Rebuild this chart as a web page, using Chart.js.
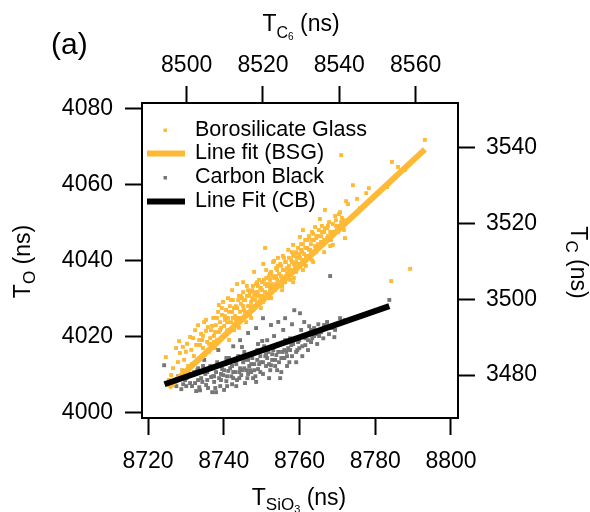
<!DOCTYPE html>
<html>
<head>
    <meta charset="utf-8">
    <title>T_SiO3 / T_C6</title>
    <script src="https://cdn.jsdelivr.net/npm/chart.js"></script>
    <style>
        body { margin: 0; background: #fff; }
    </style>
</head>
<body>
    <canvas id="fitChart" width="590" height="512"></canvas>

    <script>
        // Borosilicate Glass : T_SiO3 (bottom axis) vs T_O (left axis)
        const bsgX = [
            8724.7, 8725.5, 8726.6, 8727.4, 8727.9, 8726.1, 8727.1,
            8728.4, 8729.2, 8728.2, 8729.5, 8730.0, 8730.6, 8729.0, 8730.3,
            8731.1, 8731.9, 8731.4, 8732.1, 8732.7, 8733.2, 8733.5, 8732.9, 8731.6, 8732.4,
            8734.0, 8734.5, 8734.8, 8735.3, 8735.6, 8736.1, 8734.3, 8735.0, 8735.8, 8736.4,
            8736.6, 8736.9, 8737.2, 8737.4, 8737.9, 8738.2, 8738.5, 8738.7, 8737.7, 8739.0, 8738.7,
            8739.3, 8739.5, 8739.8, 8740.1, 8740.3, 8740.6, 8740.9, 8741.1, 8741.4, 8741.6, 8740.1, 8741.1,
            8741.9, 8742.2, 8742.4, 8742.7, 8743.0, 8743.2, 8743.5, 8743.8, 8744.0, 8744.3, 8742.2, 8743.2, 8742.7, 8744.0,
            8744.5, 8744.8, 8745.1, 8745.3, 8745.6, 8745.9, 8746.1, 8746.4, 8746.7, 8746.9, 8744.8, 8745.6, 8746.4, 8745.1,
            8747.2, 8747.5, 8747.7, 8748.0, 8748.3, 8748.5, 8748.8, 8749.0, 8749.3, 8749.6, 8747.5, 8748.3, 8749.0, 8748.0, 8747.2,
            8749.8, 8750.1, 8750.4, 8750.6, 8750.9, 8751.2, 8751.4, 8751.7, 8751.9, 8752.2, 8750.1, 8750.9, 8751.7, 8750.6, 8752.2,
            8752.5, 8752.7, 8753.0, 8753.3, 8753.5, 8753.8, 8754.1, 8754.3, 8754.6, 8754.9, 8753.3, 8752.7, 8753.8, 8754.3,
            8755.1, 8755.4, 8755.6, 8755.9, 8756.2, 8756.4, 8756.7, 8757.0, 8757.2, 8757.5, 8755.9, 8755.4, 8757.0, 8756.4,
            8757.8, 8758.0, 8758.3, 8758.5, 8758.8, 8759.1, 8759.3, 8759.6, 8759.9, 8760.1, 8758.0, 8759.1, 8760.1, 8758.5,
            8760.4, 8760.7, 8760.9, 8761.2, 8761.5, 8761.7, 8762.0, 8762.2, 8762.5, 8762.8, 8760.9, 8761.7,
            8763.0, 8763.3, 8763.6, 8763.8, 8764.1, 8764.4, 8764.6, 8764.9, 8765.1, 8765.4, 8763.3, 8764.4,
            8765.7, 8765.9, 8766.2, 8766.5, 8766.7, 8767.0, 8767.3, 8767.5, 8767.8, 8768.1, 8766.5,
            8768.6, 8768.8, 8769.4, 8769.6, 8770.2, 8770.7, 8771.0, 8771.5, 8772.0, 8770.4, 8771.7, 8772.3,
            8771.0, 8772.8, 8774.1, 8775.2, 8776.0, 8777.6, 8778.3, 8779.9, 8783.1, 8784.4, 8786.0, 8789.2, 8784.2, 8793.1, 8785.2, 8787.9, 8790.5,
            8733.7, 8734.5, 8735.3, 8736.1, 8736.9, 8737.7, 8738.2, 8739.0, 8739.5, 8740.3,
            8740.9, 8741.4, 8741.9, 8742.4, 8743.0, 8743.5, 8743.8, 8744.3, 8744.5, 8745.1,
            8745.3, 8745.9, 8746.1, 8746.7, 8746.9, 8747.5, 8747.7, 8748.3, 8748.5, 8748.8,
            8749.3, 8749.6, 8750.1, 8750.4, 8750.9, 8751.2, 8751.4, 8751.9, 8752.2, 8752.5,
            8753.0, 8753.3, 8753.8, 8754.1, 8754.6, 8754.9, 8755.1, 8755.6, 8755.9, 8756.2,
            8756.7, 8757.0, 8757.2, 8757.8, 8758.0, 8758.3, 8758.8, 8759.1, 8759.3, 8759.9,
            8760.1, 8760.4, 8760.7, 8761.2, 8761.5, 8762.0, 8762.2, 8762.5, 8763.0, 8763.3,
            8763.6, 8764.1, 8764.4, 8764.9, 8765.1, 8765.7, 8765.9, 8766.5, 8766.7, 8767.3,
            8767.5, 8768.1, 8768.3, 8768.8, 8769.1, 8769.6, 8769.9, 8770.4, 8771.2, 8771.7,
            8737.4, 8740.6, 8744.0, 8747.2, 8749.8, 8752.5, 8755.4, 8758.3, 8760.9, 8763.6
        ];
        const bsgY = [
            4014.6, 4008.6, 4011.7, 4017.0, 4013.3, 4009.9, 4007.8,
            4015.7, 4017.3, 4018.8, 4013.9, 4016.0, 4012.3, 4011.2, 4018.1,
            4019.9, 4019.6, 4016.5, 4014.9, 4017.8, 4023.0, 4019.1, 4013.9, 4012.8, 4021.7,
            4020.7, 4017.0, 4023.8, 4021.5, 4018.6, 4016.0, 4019.1, 4015.2, 4022.5, 4019.6,
            4021.7, 4018.1, 4024.9, 4020.2, 4023.0, 4019.1, 4026.5, 4021.2, 4017.0, 4023.8, 4028.3,
            4022.3, 4025.7, 4029.1, 4020.2, 4024.4, 4027.0, 4021.7, 4024.9, 4019.1, 4028.0, 4022.8, 4030.1,
            4023.8, 4026.5, 4029.6, 4021.7, 4025.4, 4028.0, 4033.8, 4023.3, 4030.7, 4026.5, 4032.2, 4024.4, 4027.5, 4024.9,
            4028.6, 4024.9, 4031.7, 4027.0, 4029.6, 4023.8, 4033.3, 4028.0, 4030.7, 4025.9, 4030.1, 4026.5, 4032.2, 4034.3,
            4029.1, 4032.2, 4027.0, 4037.0, 4030.7, 4033.8, 4028.6, 4031.7, 4034.9, 4029.6, 4030.1, 4028.0, 4033.3, 4031.2, 4027.0,
            4032.8, 4030.7, 4039.1, 4034.9, 4031.7, 4037.5, 4033.3, 4030.1, 4035.9, 4032.2, 4034.3, 4043.3, 4033.8, 4029.6, 4034.9,
            4037.0, 4033.8, 4039.6, 4035.4, 4032.2, 4038.0, 4034.9, 4040.7, 4036.5, 4033.3, 4039.9, 4031.7, 4035.9, 4038.6,
            4038.6, 4035.4, 4041.2, 4037.5, 4034.3, 4039.6, 4036.5, 4042.8, 4038.6, 4034.9, 4040.7, 4033.3, 4037.5, 4035.9,
            4040.1, 4037.5, 4044.1, 4039.1, 4041.7, 4037.0, 4040.7, 4043.3, 4038.6, 4046.2, 4042.2, 4039.6, 4040.7, 4035.4,
            4042.8, 4040.1, 4044.3, 4041.7, 4045.4, 4038.6, 4043.3, 4041.2, 4046.4, 4042.8, 4048.0, 4040.7,
            4044.3, 4047.5, 4041.7, 4045.4, 4048.8, 4043.3, 4046.4, 4044.3, 4048.0, 4050.9, 4040.1, 4042.2,
            4046.4, 4049.1, 4044.3, 4047.5, 4053.3, 4045.4, 4048.5, 4046.4, 4050.1, 4043.8, 4042.2,
            4047.5, 4044.1, 4051.7, 4049.1, 4047.5, 4052.7, 4050.1, 4048.5, 4045.9, 4052.2, 4050.6, 4055.6,
            4067.7, 4054.8, 4059.8, 4056.2, 4053.8, 4057.7, 4059.0, 4057.0, 4059.3, 4065.9, 4064.6, 4037.8, 4034.6, 4071.7, 4061.7, 4063.8, 4066.9,
            4017.8, 4020.2, 4024.4, 4018.1, 4022.8, 4021.2, 4024.9, 4021.7, 4027.5, 4025.4,
            4023.8, 4026.5, 4029.6, 4024.9, 4023.3, 4027.5, 4029.6, 4024.4, 4030.7, 4028.0,
            4029.6, 4025.9, 4030.7, 4028.0, 4031.7, 4028.0, 4033.3, 4029.6, 4031.7, 4034.3,
            4030.7, 4032.8, 4032.2, 4029.1, 4033.8, 4035.4, 4031.2, 4033.3, 4036.5, 4032.8,
            4035.9, 4033.3, 4033.8, 4037.5, 4034.3, 4039.1, 4035.9, 4037.5, 4034.9, 4039.6,
            4038.0, 4035.9, 4040.7, 4037.0, 4039.6, 4041.2, 4038.6, 4042.2, 4038.0, 4041.7,
            4039.1, 4044.3, 4042.2, 4039.6, 4043.3, 4041.2, 4045.4, 4042.8, 4042.2, 4045.4,
            4047.0, 4043.8, 4045.9, 4046.4, 4043.8, 4044.9, 4047.5, 4045.4, 4048.5, 4045.9,
            4049.1, 4047.5, 4045.4, 4049.6, 4047.0, 4050.6, 4048.0, 4049.1, 4051.2, 4048.0,
            4018.6, 4020.7, 4022.3, 4024.9, 4027.5, 4030.1, 4032.2, 4034.3, 4037.5, 4039.6
        ];

        // Carbon Black : T_C6 (top axis) vs T_C (right axis)
        const cbX = [
            8494.1, 8496.2, 8497.8, 8499.1, 8499.9, 8500.9, 8500.4, 8498.6,
            8501.7, 8502.2, 8502.8, 8503.3, 8503.8, 8504.3, 8504.9, 8505.1, 8505.6, 8505.9, 8502.5, 8504.6,
            8506.4, 8506.9, 8507.2, 8507.7, 8508.0, 8508.5, 8508.8, 8509.3, 8509.6, 8510.1, 8510.4, 8510.9, 8511.1, 8506.7, 8508.3,
            8511.7, 8511.9, 8512.5, 8512.7, 8513.2, 8513.5, 8514.0, 8514.3, 8514.8, 8515.1, 8515.6, 8515.9, 8516.1, 8516.4, 8513.0, 8514.5, 8515.3,
            8516.9, 8517.2, 8517.7, 8518.0, 8518.5, 8518.7, 8519.3, 8519.5, 8520.0, 8520.3, 8520.8, 8521.1, 8521.4, 8521.9, 8518.2, 8519.8, 8521.6,
            8522.4, 8522.7, 8523.2, 8523.5, 8524.0, 8524.2, 8524.8, 8525.0, 8525.6, 8525.8, 8526.3, 8526.6, 8526.9, 8522.9, 8525.3, 8524.5,
            8527.4, 8527.6, 8528.2, 8528.4, 8529.0, 8529.2, 8529.7, 8530.0, 8530.3, 8530.8, 8531.1, 8531.3, 8531.8, 8532.1, 8528.7,
            8532.9, 8533.4, 8533.9, 8534.5, 8535.2, 8536.0, 8536.8, 8537.6, 8538.7, 8538.9, 8540.2, 8541.5, 8553.1,
            8516.1, 8518.2, 8520.0, 8522.1, 8525.8, 8524.0, 8527.6, 8514.0, 8512.2,
            8503.0, 8505.4, 8507.5, 8509.0, 8510.6, 8512.2, 8513.8, 8516.6, 8517.4, 8519.0, 8520.6, 8522.1, 8523.7, 8526.1,
            8527.1, 8529.5, 8530.5, 8532.6, 8534.7, 8510.4, 8515.1, 8518.7, 8521.1, 8506.9, 8503.5, 8499.6, 8501.4, 8509.8,
            8502.0, 8503.0, 8504.1, 8505.4, 8506.2, 8507.2, 8508.3, 8509.0, 8509.8, 8510.6,
            8511.4, 8512.2, 8513.0, 8513.8, 8514.5, 8515.3, 8516.1, 8516.9, 8517.7, 8518.5,
            8519.3, 8520.0, 8520.8, 8521.6, 8522.4, 8523.2, 8524.0, 8524.8, 8525.6, 8526.3,
            8527.1, 8527.9, 8528.7, 8529.5, 8530.3, 8531.1, 8531.8, 8532.6, 8533.4, 8534.2,
            8535.0, 8535.8, 8536.6, 8537.3, 8538.1, 8503.5, 8507.7, 8499.9, 8497.3, 8511.9
        ];
        const cbY = [
            3482.6, 3478.4, 3479.7, 3477.6, 3479.2, 3477.9, 3480.8, 3476.3,
            3480.0, 3477.9, 3481.3, 3476.8, 3479.2, 3482.4, 3480.3, 3477.4, 3476.6, 3481.6, 3475.8, 3484.0,
            3479.5, 3481.8, 3478.2, 3480.8, 3483.4, 3479.2, 3477.1, 3481.6, 3480.0, 3482.9, 3478.4, 3481.1, 3484.5, 3475.5, 3486.6,
            3479.7, 3482.4, 3484.0, 3480.8, 3478.7, 3485.0, 3481.8, 3480.0, 3483.4, 3486.1, 3481.3, 3479.2, 3484.0, 3482.4, 3477.1, 3487.4, 3477.9,
            3480.8, 3484.5, 3482.9, 3479.7, 3486.6, 3481.6, 3485.0, 3483.4, 3480.3, 3487.6, 3482.4, 3484.5, 3486.1, 3481.3, 3478.2, 3489.0, 3479.2,
            3484.0, 3486.6, 3482.4, 3485.3, 3488.2, 3483.4, 3480.8, 3486.1, 3484.5, 3489.2, 3482.4, 3487.1, 3483.4, 3490.3, 3491.9, 3479.2,
            3487.9, 3485.0, 3497.1, 3489.7, 3486.6, 3488.7, 3496.3, 3491.9, 3485.0, 3494.0, 3487.9, 3490.5, 3489.2, 3492.9, 3483.4,
            3489.7, 3492.4, 3490.8, 3493.4, 3491.3, 3493.2, 3494.0, 3506.1, 3490.0, 3491.9, 3495.0, 3494.5, 3499.8,
            3491.1, 3492.4, 3495.0, 3493.2, 3495.0, 3494.0, 3493.4, 3489.2, 3487.6,
            3478.7, 3478.7, 3476.6, 3480.3, 3477.1, 3479.2, 3480.8, 3481.3, 3479.2, 3482.9, 3485.0, 3482.6, 3481.3, 3486.1,
            3489.7, 3487.1, 3490.3, 3491.9, 3490.3, 3484.5, 3481.8, 3488.2, 3489.2, 3479.7, 3480.8, 3478.7, 3477.1, 3476.1,
            3480.8, 3481.8, 3478.2, 3480.8, 3482.4, 3479.7, 3482.4, 3478.7, 3481.3, 3479.7,
            3481.8, 3480.8, 3482.9, 3479.2, 3481.3, 3484.0, 3480.3, 3482.9, 3481.3, 3484.0,
            3480.8, 3483.4, 3485.5, 3482.9, 3485.5, 3484.0, 3486.1, 3484.5, 3486.6, 3485.0,
            3486.6, 3488.2, 3486.1, 3489.2, 3487.6, 3489.7, 3486.6, 3488.7, 3490.3, 3488.2,
            3491.9, 3489.7, 3492.9, 3490.8, 3492.4, 3476.0, 3475.5, 3477.1, 3477.1, 3477.6
        ];

        // droites d'ajustement (extrémités)
        const bsgFitX = [8725.4, 8793.1];
        const bsgFitY = [4006.6, 4069.2];
        const cbFitX = [8494.2, 8553.1];
        const cbFitY = [3477.6, 3498.2];

        // graduations
        const tSiO3Ticks = [8720, 8740, 8760, 8780, 8800];
        const tC6Ticks = [8500, 8520, 8540, 8560];
        const tOTicks = [4000, 4020, 4040, 4060, 4080];
        const tCTicks = [3480, 3500, 3520, 3540];

        const FONT = '"Liberation Sans", Arial, Helvetica, sans-serif';
        const ORANGE = '#ffb935';
        const GREY = '#767676';

        const pairs = (xs, ys) => xs.map((x, i) => ({ x: x, y: ys[i] }));

        function axis(position, min, max, values, pad, size) {
            return {
                type: 'linear',
                position: position,
                min: min,
                max: max,
                afterBuildTicks: s => { s.ticks = values.map(v => ({ value: v })); },
                afterFit: s => {
                    if (position === 'left' || position === 'right') s.width = size;
                    else s.height = size;
                },
                grid: { drawOnChartArea: false, drawTicks: true, tickLength: 17, tickWidth: 2, tickColor: '#000' },
                border: { display: true, color: '#000', width: 2 },
                ticks: {
                    padding: pad,
                    color: '#000',
                    autoSkip: false,
                    maxRotation: 0,
                    font: { family: FONT, size: 23 },
                    callback: v => String(v)
                }
            };
        }

        // texte avec indices (T_SiO3 etc.)
        function drawRich(ctx, parts, cx, cy, angle) {
            ctx.save();
            ctx.translate(cx, cy);
            ctx.rotate(angle);
            ctx.textAlign = 'left';
            ctx.textBaseline = 'alphabetic';
            ctx.fillStyle = '#000';
            let total = 0;
            parts.forEach(p => {
                ctx.font = p[1] + 'px ' + FONT;
                p.w = ctx.measureText(p[0]).width;
                total += p.w;
            });
            let x = -total / 2;
            parts.forEach(p => {
                ctx.font = p[1] + 'px ' + FONT;
                ctx.fillText(p[0], x, p[2]);
                x += p.w;
            });
            ctx.restore();
        }

        const titlesPlugin = {
            id: 'titles',
            afterDraw(chart) {
                const ctx = chart.ctx;
                drawRich(ctx, [['T', 23, 0], ['C', 16, 7], ['6', 10, 9], [' (ns)', 23, 0]], 301, 31, 0);
                drawRich(ctx, [['T', 23, 0], ['SiO', 17, 5], ['3', 11, 8], [' (ns)', 23, 0]], 299, 505, 0);
                drawRich(ctx, [['T', 23, 0], ['O', 17, 5], [' (ns)', 23, 0]], 29.5, 261.5, -Math.PI / 2);
                drawRich(ctx, [['T', 23, 0], ['C', 17, 5], [' (ns)', 23, 0]], 571, 262.5, Math.PI / 2);

                ctx.save();
                ctx.font = '30px ' + FONT;
                ctx.fillStyle = '#000';
                ctx.textBaseline = 'alphabetic';
                ctx.fillText('(a)', 51, 54);
                ctx.restore();
            }
        };

        // légende dans le cadre, comme sur la figure
        const legendPlugin = {
            id: 'boxLegend',
            afterDraw(chart) {
                const ctx = chart.ctx;
                const rows = [130, 153.5, 177.5, 201.5];
                chart.data.datasets.forEach((ds, i) => {
                    const y = rows[i];
                    ctx.save();
                    if (ds.showLine) {
                        ctx.strokeStyle = ds.borderColor;
                        ctx.lineWidth = ds.borderWidth;
                        ctx.beginPath();
                        ctx.moveTo(147, y);
                        ctx.lineTo(185, y);
                        ctx.stroke();
                    } else {
                        ctx.fillStyle = ds.backgroundColor;
                        ctx.fillRect(163.5, y - 1.5, 3.5, 3.5);
                    }
                    ctx.font = '21.5px ' + FONT;
                    ctx.fillStyle = '#000';
                    ctx.textBaseline = 'middle';
                    ctx.fillText(ds.label, 195, y);
                    ctx.restore();
                });
            }
        };

        const ctx = document.getElementById('fitChart').getContext('2d');
        const chart = new Chart(ctx, {
            type: 'scatter',
            data: {
                datasets: [
                    {
                        label: 'Borosilicate Glass',
                        data: pairs(bsgX, bsgY),
                        xAxisID: 'x', yAxisID: 'y',
                        pointStyle: 'rect', pointRadius: 2.75, borderWidth: 0,
                        backgroundColor: ORANGE, borderColor: ORANGE,
                        order: 4
                    },
                    {
                        label: 'Line fit (BSG)',
                        data: pairs(bsgFitX, bsgFitY),
                        xAxisID: 'x', yAxisID: 'y',
                        showLine: true, pointRadius: 0, borderWidth: 6,
                        borderColor: ORANGE, backgroundColor: ORANGE,
                        order: 2
                    },
                    {
                        label: 'Carbon Black',
                        data: pairs(cbX, cbY),
                        xAxisID: 'x2', yAxisID: 'y2',
                        pointStyle: 'rect', pointRadius: 2.75, borderWidth: 0,
                        backgroundColor: GREY, borderColor: GREY,
                        order: 3
                    },
                    {
                        label: 'Line Fit (CB)',
                        data: pairs(cbFitX, cbFitY),
                        xAxisID: 'x2', yAxisID: 'y2',
                        showLine: true, pointRadius: 0, borderWidth: 6,
                        borderColor: '#000', backgroundColor: '#000',
                        order: 1
                    }
                ]
            },
            options: {
                responsive: false,
                animation: false,
                layout: { padding: 0 },
                plugins: {
                    legend: { display: false },
                    tooltip: { enabled: false }
                },
                scales: {
                    x: axis('bottom', 8718.4, 8801.85, tSiO3Ticks, 13, 94),
                    x2: axis('top', 8488.3, 8571.1, tC6Ticks, 7, 103),
                    y: axis('left', 3998.6, 4081.4, tOTicks, 12, 142),
                    y2: axis('right', 3468.7, 3551.7, tCTicks, 11, 132)
                }
            },
            plugins: [titlesPlugin, legendPlugin]
        });
    </script>
</body>
</html>
